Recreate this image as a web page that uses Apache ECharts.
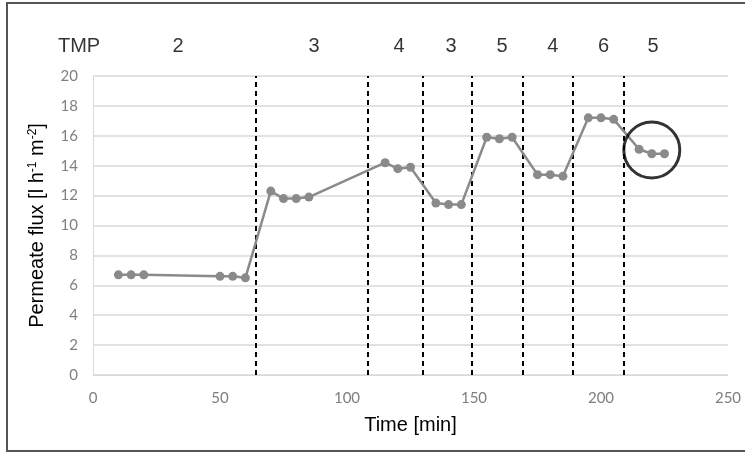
<!DOCTYPE html>
<html>
<head>
<meta charset="utf-8">
<script src="https://cdn.jsdelivr.net/npm/echarts@6/dist/echarts.min.js"></script>
<style>
  html, body { margin: 0; padding: 0; background: #fff; }
  #chart { width: 745px; height: 452px; position: absolute; left: 0; top: 0; }
  #frame { position: absolute; left: 6px; top: 2px; width: 760px; height: 446px; border: 2px solid #555; pointer-events: none; }
</style>
</head>
<body>
<div id="chart"></div>
<div id="frame"></div>
<script>
// Data
const timeMin = [10, 15, 20, 50, 55, 60, 70, 75, 80, 85, 115, 120, 125, 135, 140, 145, 155, 160, 165, 175, 180, 185, 195, 200, 205, 215, 220, 225];
const flux = [6.7, 6.7, 6.7, 6.6, 6.6, 6.5, 12.3, 11.8, 11.8, 11.9, 14.2, 13.8, 13.9, 11.5, 11.4, 11.4, 15.9, 15.8, 15.9, 13.4, 13.4, 13.3, 17.2, 17.2, 17.1, 15.1, 14.8, 14.8];
const tmpBoundaries = [64, 108, 130, 149, 169, 189, 209];
const tmpLabels = ['TMP', '2', '3', '4', '3', '5', '4', '6', '5'];
const tmpLabelX = [-5.5, 33.5, 87, 120.5, 141, 161, 181, 201, 220.5];
const tmpLabelY = 22;
const circleCenter = [220, 15.05];

const chart = echarts.init(document.getElementById('chart'));
const gridColor = '#d9d9d9';
const tickColor = '#7f7f7f';

chart.setOption({
  animation: false,
  backgroundColor: '#fff',
  grid: { left: 93, right: 17, top: 76, bottom: 77, containLabel: false },
  xAxis: {
    type: 'value', min: 0, max: 250, interval: 50,
    name: 'Time [min]', nameLocation: 'middle', nameGap: 40,
    nameTextStyle: { fontFamily: 'Liberation Sans', fontSize: 20, color: '#000' },
    axisLine: { show: true, lineStyle: { color: gridColor, width: 1 } },
    axisTick: { show: false },
    axisLabel: { fontFamily: 'Lato', fontSize: 15, color: tickColor, margin: 16 },
    splitLine: { show: false }
  },
  yAxis: {
    type: 'value', min: 0, max: 20, interval: 2,
    name: 'Permeate flux [l h{sup|-1} m{sup|-2}]', nameLocation: 'middle', nameGap: 46,
    nameTextStyle: {
      fontFamily: 'Liberation Sans', fontSize: 20, color: '#000',
      rich: { sup: { fontFamily: 'Liberation Sans', fontSize: 12, color: '#000', verticalAlign: 'top', lineHeight: 16 } }
    },
    axisLine: { show: true, lineStyle: { color: gridColor, width: 1 } },
    axisTick: { show: false },
    axisLabel: { fontFamily: 'Lato', fontSize: 15, color: tickColor, margin: 15 },
    splitLine: { show: true, lineStyle: { color: gridColor, width: 1.5 } }
  },
  series: [
    {
      name: 'flux',
      type: 'line',
      data: timeMin.map((t, i) => [t, flux[i]]),
      symbol: 'circle',
      symbolSize: 9,
      itemStyle: { color: '#8a8a8a' },
      lineStyle: { color: '#8a8a8a', width: 2.5 },
      z: 5,
      markLine: {
        silent: true,
        symbol: ['none', 'none'],
        label: { show: false },
        lineStyle: { color: '#000', type: [5, 4], width: 2 },
        data: tmpBoundaries.map(b => [{ coord: [b, 0] }, { coord: [b, 20] }])
      }
    },
    {
      name: 'tmp',
      type: 'scatter',
      clip: false,
      silent: true,
      symbolSize: 1,
      itemStyle: { color: 'rgba(0,0,0,0)' },
      label: {
        show: true, position: 'inside', formatter: '{b}',
        fontFamily: 'Liberation Sans', fontSize: 20, color: '#000'
      },
      data: tmpLabels.map((l, i) => ({ name: l, value: [tmpLabelX[i], tmpLabelY] }))
    },
    {
      name: 'circle',
      type: 'scatter',
      silent: true,
      clip: false,
      symbol: 'circle',
      symbolSize: 56,
      itemStyle: { color: 'rgba(0,0,0,0)', borderColor: '#000', borderWidth: 3 },
      data: [circleCenter],
      z: 6
    }
  ]
});
</script>
</body>
</html>
